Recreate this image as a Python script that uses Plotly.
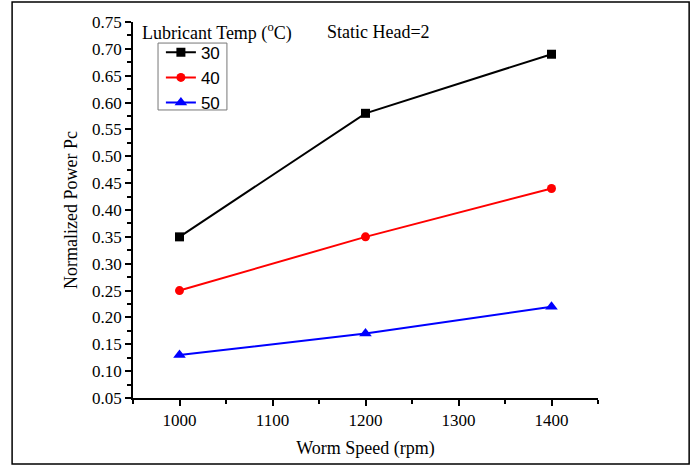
import plotly.graph_objects as go

# Data
speed = [1000, 1200, 1400]
temps = ['30', '40', '50']
power_30 = [0.35, 0.58, 0.69]
power_40 = [0.25, 0.35, 0.44]
power_50 = [0.13, 0.17, 0.22]

serif = 'Liberation Serif, Times New Roman, serif'

fig = go.Figure()
series = [(temps[0], power_30, 'black', 'square', 9),
          (temps[1], power_40, 'red', 'circle', 9),
          (temps[2], power_50, 'blue', 'triangle-up', 11)]
for name, vals, col, sym, sz in series:
    fig.add_trace(go.Scatter(x=speed, y=vals, name=name, mode='lines+markers',
                             line=dict(color=col, width=2),
                             marker=dict(symbol=sym, size=sz, color=col)))

fig.update_layout(
    width=694, height=468,
    margin=dict(l=133, r=96, t=22, b=70),
    plot_bgcolor='white', paper_bgcolor='white',
    font=dict(family=serif, size=17, color='black'),
    # legend without its own border, box drawn as a shape below so it hugs the items
    legend=dict(x=0.06, y=0.966, xanchor='left', yanchor='top',
                borderwidth=0, bgcolor='rgba(0,0,0,0)',
                font=dict(family='Liberation Sans, Arial, sans-serif', size=17),
                tracegroupgap=0),
    xaxis=dict(range=[950, 1450], tickvals=[1000, 1100, 1200, 1300, 1400],
               showgrid=False, zeroline=False, showline=True, linecolor='black', linewidth=1.5,
               ticks='outside', ticklen=6, tickwidth=1.5, tickcolor='black',
               minor=dict(dtick=50, ticks='outside', ticklen=4, tickwidth=1.5, tickcolor='black'),
               title=dict(text='Worm Speed (rpm)', font=dict(size=18), standoff=12),
               tickfont=dict(size=17)),
    yaxis=dict(range=[0.05, 0.75], dtick=0.05, tickformat='.2f',
               showgrid=False, zeroline=False, showline=True, linecolor='black', linewidth=1.5,
               ticks='outside', ticklen=6, tickwidth=1.5, tickcolor='black',
               minor=dict(dtick=0.025, ticks='outside', ticklen=4, tickwidth=1.5, tickcolor='black'),
               title=dict(text='Normalized Power Pc', font=dict(size=18), standoff=10),
               tickfont=dict(size=17)),
    annotations=[
        dict(text='Lubricant Temp (<sup>o</sup>C)', x=0.015, y=0.973, xref='paper', yref='paper',
             xanchor='left', yanchor='middle', showarrow=False, font=dict(size=18)),
        dict(text='Static Head=2', x=0.413, y=0.973, xref='paper', yref='paper',
             xanchor='left', yanchor='middle', showarrow=False, font=dict(size=18)),
    ],
    shapes=[
        # outer frame
        dict(type='rect', xref='paper', yref='paper', x0=-0.26, x1=1.196, y0=-0.1755, y1=1.053,
             line=dict(color='black', width=1.5)),
        # legend box
        dict(type='rect', xref='paper', yref='paper', x0=0.0538, x1=0.202, y0=0.766, y1=0.944,
             line=dict(color='#777', width=1)),
    ],
)

# page has default 8px body margin, drop it so figure sits at 0,0
fig.write_html('out.html', config={'displayModeBar': False},
               post_script="document.body.style.margin='0';")
